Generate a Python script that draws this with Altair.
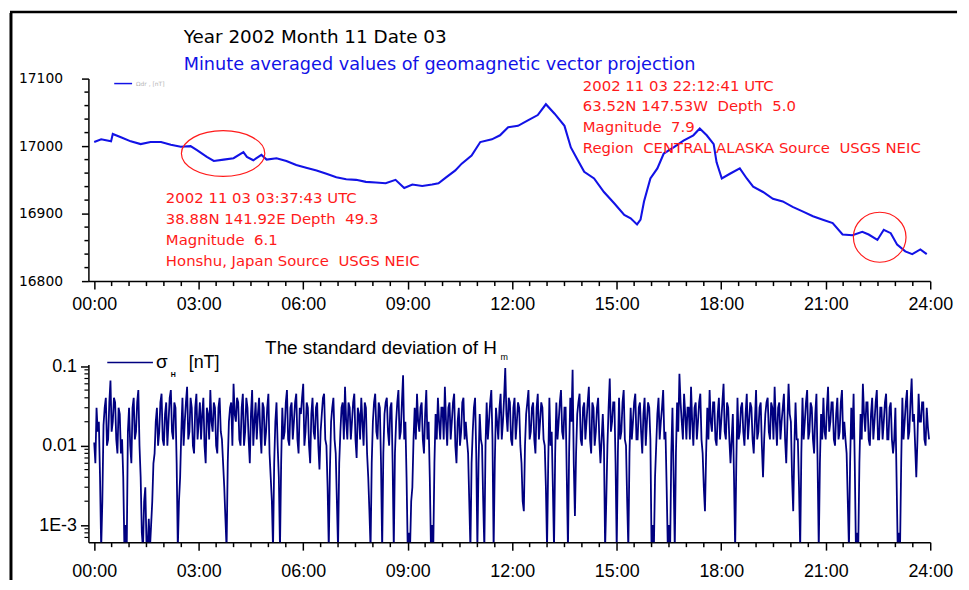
import altair as alt
import pandas as pd

# ---------------- data ----------------
# minute-averaged geomagnetic vector projection, nT
top_minutes = [0, 12, 29, 32, 46, 63, 80, 97, 115, 132,
               149, 166, 177, 194, 206, 223, 240, 257, 263, 274,
               288, 297, 314, 331, 348, 365, 383, 400, 417, 434,
               451, 468, 485, 502, 519, 534, 548, 565, 582, 593,
               605, 622, 633, 650, 665, 685, 699, 713, 730, 747,
               764, 778, 793, 810, 821, 833, 844, 861, 878, 896,
               913, 924, 935, 941, 947, 958, 970, 981, 998, 1015,
               1032, 1043, 1055, 1067, 1072, 1081, 1095, 1112, 1124, 1135,
               1152, 1169, 1186, 1203, 1221, 1238, 1255, 1272, 1289, 1306,
               1323, 1334, 1349, 1360, 1372, 1383, 1397, 1409, 1423, 1434]
top_values = [17006, 17010, 17007, 17018, 17013, 17007, 17003, 17006, 17006, 17002,
              16999, 17000, 16994, 16984, 16978, 16980, 16982, 16991, 16984, 16979,
              16987, 16980, 16982, 16978, 16972, 16968, 16964, 16959, 16954, 16951,
              16950, 16947, 16946, 16945, 16950, 16938, 16943, 16941, 16943, 16945,
              16953, 16964, 16974, 16986, 17006, 17010, 17016, 17028, 17030, 17038,
              17046, 17062, 17048, 17030, 16998, 16979, 16962, 16952, 16932, 16915,
              16898, 16893, 16884, 16891, 16918, 16952, 16967, 16989, 16998, 17008,
              17016, 17026, 17016, 17003, 16976, 16952, 16959, 16967, 16952, 16940,
              16932, 16922, 16918, 16910, 16903, 16896, 16891, 16886, 16869, 16868,
              16873, 16869, 16861, 16876, 16871, 16854, 16844, 16840, 16847, 16840]

# standard deviation of Hm, nT: readings at minutes 0, 4, 8, ...
sigma_minutes_a = list(range(0, 1440, 4))
sigma_values_a = [
    0.011, 0.03, 0.02, 0.0005, 0.018, 0.04, 0.012, 0.066, 0.02, 0.035, 0.008, 0.025, 0.012, 0.0005, 0.0005, 0.03, 0.006, 0.04, 0.015, 0.05,
    0.004, 0.0005, 0.003, 0.0005, 0.0005, 0.002, 0.008, 0.03, 0.015, 0.045, 0.01, 0.035, 0.02, 0.05, 0.012, 0.03, 0.0005, 0.004, 0.04, 0.02,
    0.055, 0.015, 0.03, 0.008, 0.045, 0.02, 0.012, 0.04, 0.006, 0.025, 0.05, 0.015, 0.03, 0.008, 0.04, 0.012, 0.003, 0.0005, 0.02, 0.035,
    0.06, 0.02, 0.035, 0.01, 0.045, 0.015, 0.03, 0.006, 0.05, 0.02, 0.012, 0.04, 0.008, 0.03, 0.015, 0.045, 0.004, 0.0005, 0.02, 0.01,
    0.0005, 0.03, 0.015, 0.05, 0.01, 0.035, 0.02, 0.045, 0.008, 0.025, 0.06, 0.015, 0.03, 0.006, 0.04, 0.012, 0.035, 0.005, 0.025, 0.045,
    0.01, 0.0005, 0.02, 0.04, 0.008, 0.0005, 0.015, 0.035, 0.055, 0.012, 0.03, 0.02, 0.045, 0.007, 0.025, 0.04, 0.01, 0.03, 0.004, 0.0005,
    0.02, 0.045, 0.012, 0.03, 0.0005, 0.025, 0.04, 0.01, 0.035, 0.0005, 0.02, 0.05, 0.015, 0.077, 0.02, 0.0005, 0.0005, 0.003, 0.03, 0.045,
    0.015, 0.035, 0.008, 0.05, 0.02, 0.0005, 0.0005, 0.025, 0.04, 0.012, 0.03, 0.055, 0.01, 0.035, 0.02, 0.045, 0.006, 0.03, 0.015, 0.04,
    0.02, 0.008, 0.0005, 0.015, 0.04, 0.0005, 0.025, 0.01, 0.0005, 0.035, 0.02, 0.05, 0.0005, 0.03, 0.012, 0.045, 0.02, 0.095, 0.015, 0.035,
    0.01, 0.04, 0.02, 0.03, 0.006, 0.0015, 0.025, 0.05, 0.015, 0.035, 0.008, 0.045, 0.02, 0.03, 0.01, 0.0005, 0.04, 0.015, 0.0005, 0.035,
    0.02, 0.05, 0.012, 0.03, 0.0005, 0.04, 0.09, 0.0013, 0.025, 0.045, 0.01, 0.035, 0.02, 0.055, 0.008, 0.03, 0.015, 0.04, 0.006, 0.025,
    0.0005, 0.01, 0.07, 0.02, 0.035, 0.0005, 0.04, 0.015, 0.05, 0.01, 0.0005, 0.03, 0.02, 0.045, 0.012, 0.035, 0.008, 0.04, 0.02, 0.03,
    0.0005, 0.0005, 0.01, 0.04, 0.02, 0.05, 0.015, 0.0005, 0.0005, 0.03, 0.0005, 0.035, 0.08, 0.02, 0.045, 0.012, 0.03, 0.055, 0.01, 0.035,
    0.02, 0.045, 0.008, 0.0015, 0.03, 0.05, 0.015, 0.035, 0.01, 0.04, 0.02, 0.06, 0.012, 0.03, 0.006, 0.025, 0.0005, 0.04, 0.015, 0.035,
    0.01, 0.045, 0.02, 0.03, 0.008, 0.05, 0.015, 0.035, 0.004, 0.025, 0.04, 0.012, 0.03, 0.055, 0.01, 0.035, 0.02, 0.045, 0.006, 0.06,
    0.02, 0.0015, 0.035, 0.012, 0.0005, 0.04, 0.02, 0.05, 0.015, 0.03, 0.008, 0.045, 0.0005, 0.025, 0.04, 0.012, 0.055, 0.02, 0.035, 0.01,
    0.04, 0.015, 0.05, 0.02, 0.008, 0.0005, 0.03, 0.045, 0.0005, 0.0005, 0.025, 0.06, 0.015, 0.035, 0.01, 0.04, 0.02, 0.05, 0.012, 0.03,
    0.02, 0.045, 0.012, 0.035, 0.008, 0.03, 0.0005, 0.0005, 0.04, 0.02, 0.05, 0.015, 0.07, 0.025, 0.004, 0.045, 0.02, 0.035, 0.01, 0.017,
]
# ... and the readings in between, at minutes 2, 6, 10, ...
sigma_minutes_b = list(range(2, 1440, 4))
sigma_values_b = [
    0.006, 0.015, 0.004, 0.002, 0.03, 0.01, 0.035, 0.015, 0.04, 0.012, 0.03, 0.008, 0.004, 0.001, 0.015, 0.01, 0.03, 0.012, 0.035, 0.01,
    0.0008, 0.002, 0.0006, 0.0012, 0.001, 0.006, 0.02, 0.01, 0.035, 0.012, 0.025, 0.01, 0.04, 0.015, 0.035, 0.006, 0.002, 0.015, 0.01, 0.035,
    0.012, 0.04, 0.01, 0.03, 0.012, 0.035, 0.025, 0.01, 0.03, 0.012, 0.02, 0.035, 0.01, 0.03, 0.015, 0.006, 0.0012, 0.006, 0.03, 0.01,
    0.025, 0.04, 0.012, 0.03, 0.01, 0.04, 0.012, 0.025, 0.01, 0.035, 0.025, 0.015, 0.035, 0.01, 0.03, 0.008, 0.002, 0.006, 0.035, 0.004,
    0.006, 0.012, 0.035, 0.012, 0.03, 0.012, 0.035, 0.012, 0.03, 0.04, 0.01, 0.035, 0.01, 0.025, 0.015, 0.03, 0.01, 0.015, 0.04, 0.012,
    0.003, 0.005, 0.03, 0.012, 0.002, 0.006, 0.03, 0.012, 0.02, 0.035, 0.012, 0.035, 0.012, 0.03, 0.012, 0.02, 0.035, 0.008, 0.0015, 0.006,
    0.035, 0.015, 0.035, 0.006, 0.008, 0.035, 0.015, 0.03, 0.006, 0.008, 0.035, 0.012, 0.035, 0.012, 0.004, 0.0008, 0.002, 0.012, 0.012, 0.02,
    0.03, 0.012, 0.025, 0.012, 0.004, 0.001, 0.006, 0.012, 0.02, 0.03, 0.012, 0.02, 0.03, 0.012, 0.035, 0.01, 0.02, 0.01, 0.035, 0.012,
    0.012, 0.002, 0.006, 0.03, 0.008, 0.006, 0.012, 0.002, 0.01, 0.012, 0.035, 0.012, 0.006, 0.02, 0.03, 0.012, 0.04, 0.025, 0.04, 0.012,
    0.03, 0.012, 0.035, 0.01, 0.002, 0.01, 0.035, 0.012, 0.03, 0.012, 0.03, 0.012, 0.035, 0.012, 0.003, 0.006, 0.01, 0.003, 0.008, 0.012,
    0.035, 0.015, 0.03, 0.004, 0.008, 0.02, 0.006, 0.008, 0.035, 0.012, 0.03, 0.012, 0.035, 0.012, 0.035, 0.01, 0.03, 0.012, 0.012, 0.01,
    0.002, 0.03, 0.015, 0.035, 0.006, 0.008, 0.012, 0.035, 0.012, 0.002, 0.008, 0.012, 0.035, 0.012, 0.03, 0.015, 0.025, 0.01, 0.035, 0.012,
    0.001, 0.004, 0.025, 0.012, 0.03, 0.012, 0.003, 0.001, 0.008, 0.004, 0.008, 0.015, 0.035, 0.012, 0.025, 0.03, 0.012, 0.02, 0.03, 0.012,
    0.035, 0.012, 0.003, 0.008, 0.012, 0.02, 0.035, 0.012, 0.025, 0.012, 0.035, 0.015, 0.035, 0.012, 0.012, 0.004, 0.006, 0.012, 0.03, 0.015,
    0.025, 0.012, 0.035, 0.012, 0.02, 0.012, 0.03, 0.01, 0.012, 0.035, 0.015, 0.035, 0.012, 0.02, 0.03, 0.012, 0.03, 0.012, 0.02, 0.025,
    0.004, 0.01, 0.012, 0.003, 0.008, 0.012, 0.035, 0.012, 0.035, 0.012, 0.025, 0.006, 0.006, 0.012, 0.015, 0.03, 0.015, 0.035, 0.012, 0.025,
    0.012, 0.035, 0.012, 0.012, 0.002, 0.006, 0.012, 0.006, 0.0008, 0.006, 0.012, 0.025, 0.035, 0.012, 0.025, 0.012, 0.035, 0.012, 0.03, 0.012,
    0.035, 0.012, 0.03, 0.012, 0.012, 0.004, 0.0008, 0.006, 0.012, 0.035, 0.012, 0.035, 0.02, 0.01, 0.012, 0.02, 0.035, 0.012, 0.03, 0.012,
]

# earthquake markers (time in minutes, field value at the ring centre)
quake_minutes = [222, 1353]
quake_values = [16989, 16865]

# tick labels
x_major_ticks = [0, 180, 360, 540, 720, 900, 1080, 1260, 1440]
y_top_ticks = [16800, 16900, 17000, 17100]
y_bot_ticks = [0.001, 0.01, 0.1]

title_1 = "Year 2002 Month 11 Date 03"
title_2 = "Minute averaged values of geomagnetic vector projection"
NB = "\u00a0"
japan_lines = ["2002 11 03 03:37:43 UTC",
               f"38.88N 141.92E Depth {NB}49.3",
               f"Magnitude {NB}6.1",
               f"Honshu, Japan Source {NB}USGS NEIC"]
alaska_lines = ["2002 11 03 22:12:41 UTC",
                f"63.52N 147.53W {NB}Depth {NB}5.0",
                f"Magnitude {NB}7.9",
                f"Region {NB}CENTRAL ALASKA Source {NB}USGS NEIC"]
bottom_title = "The standard deviation of H"

# ---------------- styling ----------------
W, HT, HB = 848, 204, 179
BLUE = "#1212e6"
NAVY = "#000080"
RED = "#ff1a1a"
ONE = alt.Data(values=[{}])

df_top = pd.DataFrame({"minute": top_minutes, "value": top_values})
df_sig = pd.concat([
    pd.DataFrame({"minute": sigma_minutes_a, "value": sigma_values_a}),
    pd.DataFrame({"minute": sigma_minutes_b, "value": sigma_values_b}),
]).sort_values("minute").reset_index(drop=True)
df_q = pd.DataFrame({"minute": quake_minutes, "value": quake_values})

x_minor = [m for m in range(30, 1440, 30) if m % 180]
y_top_minor = [v for v in range(16820, 17100, 20) if v % 100]
y_bot_minor = [a * d for d in (0.0001, 0.001, 0.01) for a in range(2, 10)
               if 0.00061 < a * d < 0.1]

xscale = alt.Scale(domain=[-10, 1440], nice=False, zero=False)
label_expr_x = "(datum.value < 600 ? '0' : '') + (datum.value / 60) + ':00'"


def x_axis(pad):
    return alt.Axis(values=x_major_ticks, labelExpr=label_expr_x, title=None,
                    tickSize=8, tickWidth=1.5, domainWidth=1.5, domainColor="black",
                    tickColor="black", labelFont="Liberation Sans", labelFontSize=18,
                    labelColor="black", labelPadding=pad, labelFlush=False,
                    labelOverlap=False, grid=False)


def text(t, x, y, size, color="black", font="DejaVu Sans", weight="normal", lh=None):
    kw = dict(text=t, fontSize=size, color=color, font=font, align="left",
              baseline="alphabetic", fontWeight=weight)
    if lh:
        kw.update(lineBreak="\n", lineHeight=lh)
    return alt.Chart(ONE).mark_text(**kw).encode(x=alt.value(x), y=alt.value(y))


def ellipse(ry):
    k = 0.5523
    return (f"M1,0C1,{k*ry:.3f} {k:.3f},{ry:.3f} 0,{ry:.3f}"
            f"C{-k:.3f},{ry:.3f} -1,{k*ry:.3f} -1,0"
            f"C-1,{-k*ry:.3f} {-k:.3f},{-ry:.3f} 0,{-ry:.3f}"
            f"C{k:.3f},{-ry:.3f} 1,{-k*ry:.3f} 1,0Z")


# ---------------- top panel ----------------
yscale_top = alt.Scale(domain=[16800, 17100], nice=False, zero=False)
top_line = alt.Chart(df_top).mark_line(color=BLUE, strokeWidth=2.1).encode(
    x=alt.X("minute:Q", scale=xscale, axis=x_axis(7)),
    y=alt.Y("value:Q", scale=yscale_top,
            axis=alt.Axis(values=y_top_ticks, format="d", title=None, tickSize=7,
                          tickWidth=1.5, domainWidth=1.5, domainColor="black",
                          tickColor="black", labelFont="DejaVu Sans", labelFontSize=14,
                          labelColor="black", labelPadding=19, grid=False)),
)
top_xminor = alt.Chart(pd.DataFrame({"minute": x_minor})).mark_rule(
    color="black", strokeWidth=1.5).encode(x="minute:Q", y=alt.value(HT), y2=alt.value(HT + 5))
top_yminor = alt.Chart(pd.DataFrame({"value": y_top_minor})).mark_rule(
    color="black", strokeWidth=1.5).encode(y="value:Q", x=alt.value(-4), x2=alt.value(0))

ring_jp = alt.Chart(df_q.iloc[[0]]).mark_point(
    shape=ellipse(0.548), size=84 ** 2, filled=False, color=RED, strokeWidth=1.2, opacity=1
).encode(x="minute:Q", y="value:Q")
ring_ak = alt.Chart(df_q.iloc[[1]]).mark_point(
    shape=ellipse(0.95), size=53 ** 2, filled=False, color=RED, strokeWidth=1.2, opacity=1
).encode(x="minute:Q", y="value:Q")

top_frame = alt.Chart(ONE).mark_rule(color="black", strokeWidth=2.5).encode(
    x=alt.value(-79), x2=alt.value(875), y=alt.value(-67))

legend_top = alt.Chart(ONE).mark_rule(color=BLUE, strokeWidth=1.5).encode(
    x=alt.value(26), x2=alt.value(44), y=alt.value(5))

top = alt.layer(
    top_line, top_xminor, top_yminor, ring_jp, ring_ak, top_frame, legend_top,
    text("Ωdr , [nT]", 48, 7, 6, color="#b4b4b4"),
    text(title_1, 96, -36, 18.5),
    text(title_2, 96, -8.5, 17.8, color=BLUE),
    text("\n".join(japan_lines), 78, 125, 15, color=RED, lh=21.3),
    text("\n".join(alaska_lines), 498, 12.3, 15, color=RED, lh=20.8),
).properties(width=W, height=HT)

# ---------------- bottom panel ----------------
yscale_bot = alt.Scale(type="log", domain=[0.00061, 0.105], nice=False)
label_expr_y = "datum.value < 0.005 ? '1E-3' : (datum.value < 0.05 ? '0.01' : '0.1')"
bot_line = alt.Chart(df_sig).mark_line(color=NAVY, strokeWidth=1.8, clip=True).encode(
    x=alt.X("minute:Q", scale=xscale, axis=x_axis(13)),
    y=alt.Y("value:Q", scale=yscale_bot,
            axis=alt.Axis(values=y_bot_ticks, labelExpr=label_expr_y, title=None,
                          tickSize=8, tickWidth=1.5, domainWidth=1.5, domainColor="black",
                          tickColor="black", labelFont="Liberation Sans", labelFontSize=18,
                          labelColor="black", labelPadding=4, grid=False)),
)
bot_xminor = alt.Chart(pd.DataFrame({"minute": x_minor})).mark_rule(
    color="black", strokeWidth=1.5).encode(x="minute:Q", y=alt.value(HB), y2=alt.value(HB + 5))
bot_yminor = alt.Chart(pd.DataFrame({"value": y_bot_minor})).mark_rule(
    color="black", strokeWidth=1.2).encode(y="value:Q", x=alt.value(-4), x2=alt.value(0))

left_frame = alt.Chart(ONE).mark_rule(color="black", strokeWidth=3).encode(
    x=alt.value(-78), y=alt.value(-354), y2=alt.value(217))
legend_bot = alt.Chart(ONE).mark_rule(color=NAVY, strokeWidth=1.5).encode(
    x=alt.value(19), x2=alt.value(65), y=alt.value(-2))

bottom = alt.layer(
    bot_line, bot_xminor, bot_yminor, left_frame, legend_bot,
    text("σ", 68, 4, 19, font="Liberation Sans"),
    text("H", 83, 13, 7, font="Liberation Sans", weight="bold"),
    text("[nT]", 101, 4, 18, font="Liberation Sans"),
    text(bottom_title, 178, -11, 19, font="Liberation Sans"),
    text("m", 415, -5, 9, font="Liberation Sans"),
).properties(width=W, height=HB)

chart = alt.vconcat(top, bottom, spacing=84, bounds="flush").properties(
    padding={"left": 0, "top": 0, "right": 2, "bottom": 0}
).configure_view(stroke=None)

chart.save("out.html", embed_options={"renderer": "svg", "actions": False})
